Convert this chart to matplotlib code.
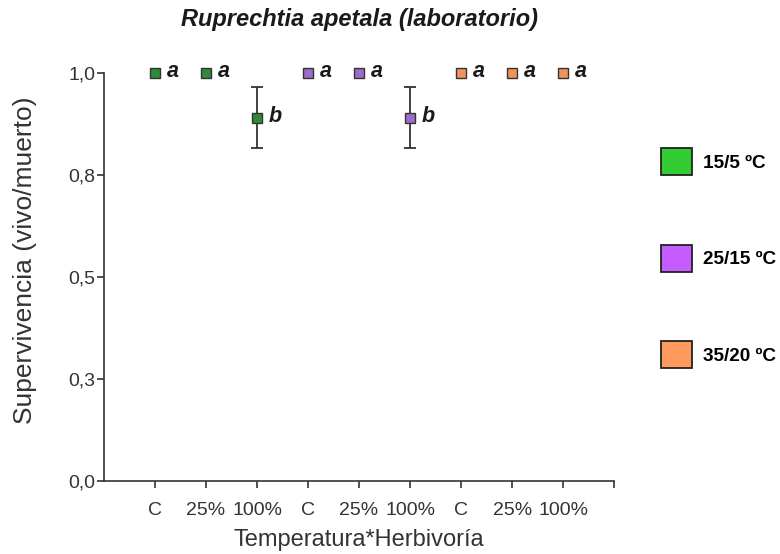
import matplotlib
matplotlib.use("Agg")
import matplotlib.pyplot as plt
from matplotlib.patches import Patch

plt.rcParams['font.family'] = ['Liberation Sans', 'DejaVu Sans']

# treatment levels along x, three temperature regimes
tick_labels = ['C', '25%', '100%', 'C', '25%', '100%', 'C', '25%', '100%']
temps = ['15/5 ºC', '25/15 ºC', '35/20 ºC']
surv_15 = [1.0, 1.0, 0.89]
surv_25 = [1.0, 1.0, 0.89]
surv_35 = [1.0, 1.0, 1.0]
err_15 = [0, 0, 0.075]
err_25 = [0, 0, 0.075]
err_35 = [0, 0, 0]
letters_15 = ['a', 'a', 'b']
letters_25 = ['a', 'a', 'b']
letters_35 = ['a', 'a', 'a']

marker_colors = ['#2e8b3c', '#9b6cc9', '#f0925a']
legend_colors = ['#33cc33', '#c45cff', '#ff9a5e']

fig = plt.figure(figsize=(7.8, 5.54), dpi=100)
ax = fig.add_axes([0.1333, 0.1318, 0.654, 0.7364])

series = [(surv_15, err_15, letters_15), (surv_25, err_25, letters_25), (surv_35, err_35, letters_35)]
for g, (vals, errs, lets) in enumerate(series):
    xs = [g * 3 + i + 1 for i in range(3)]
    for x, v, e, l in zip(xs, vals, errs, lets):
        if e > 0:
            ax.errorbar(x, v, yerr=e, fmt='none', ecolor='#333333', elinewidth=1.3,
                        capsize=4, capthick=1.3, zorder=2, clip_on=False)
        ax.plot(x, v, marker='s', markersize=6.5, markerfacecolor=marker_colors[g],
                markeredgecolor='#333333', markeredgewidth=1, zorder=3, clip_on=False)
        ax.annotate(l, (x, v), xytext=(8.5, 1), textcoords='offset points',
                    ha='left', va='center', fontsize=15.5, fontweight='bold',
                    fontstyle='italic', color='#1a1a1a', annotation_clip=False)

ax.set_xlim(0, 10)
ax.set_ylim(0, 1.0)
ax.set_xticks(range(1, 11))
ax.set_xticklabels(tick_labels + [''])
ax.set_yticks([0, 0.25, 0.5, 0.75, 1.0])
ax.set_yticklabels(['0,0', '0,3', '0,5', '0,8', '1,0'])

for s in ['top', 'right']:
    ax.spines[s].set_visible(False)
for s in ['left', 'bottom']:
    ax.spines[s].set_color('#333333')
    ax.spines[s].set_linewidth(1.2)
ax.tick_params(axis='both', direction='out', length=5, width=1.2, color='#333333',
               labelsize=14, labelcolor='#333333')
ax.tick_params(axis='x', pad=10)
ax.tick_params(axis='y', pad=1)

ax.set_xlabel('Temperatura*Herbivoría', fontsize=17, color='#333333', labelpad=7)
ax.set_ylabel('Supervivencia (vivo/muerto)', fontsize=19, color='#333333')
ax.yaxis.set_label_coords(-0.131, 0.542)
ax.set_title('Ruprechtia apetala (laboratorio)', fontsize=17, fontweight='bold',
             fontstyle='italic', color='#1a1a1a', pad=34)

handles = [Patch(facecolor=c, edgecolor='#222222', linewidth=1.3) for c in legend_colors]
fig.legend(handles, temps, loc='upper left', bbox_to_anchor=(0.847, 0.733),
           frameon=False, handlelength=1.63, handleheight=1.8, labelspacing=3.67,
           handletextpad=0.6, borderaxespad=0, borderpad=0,
           prop={'size': 13.7, 'weight': 'bold'})

fig.savefig('out.png', dpi=100)
